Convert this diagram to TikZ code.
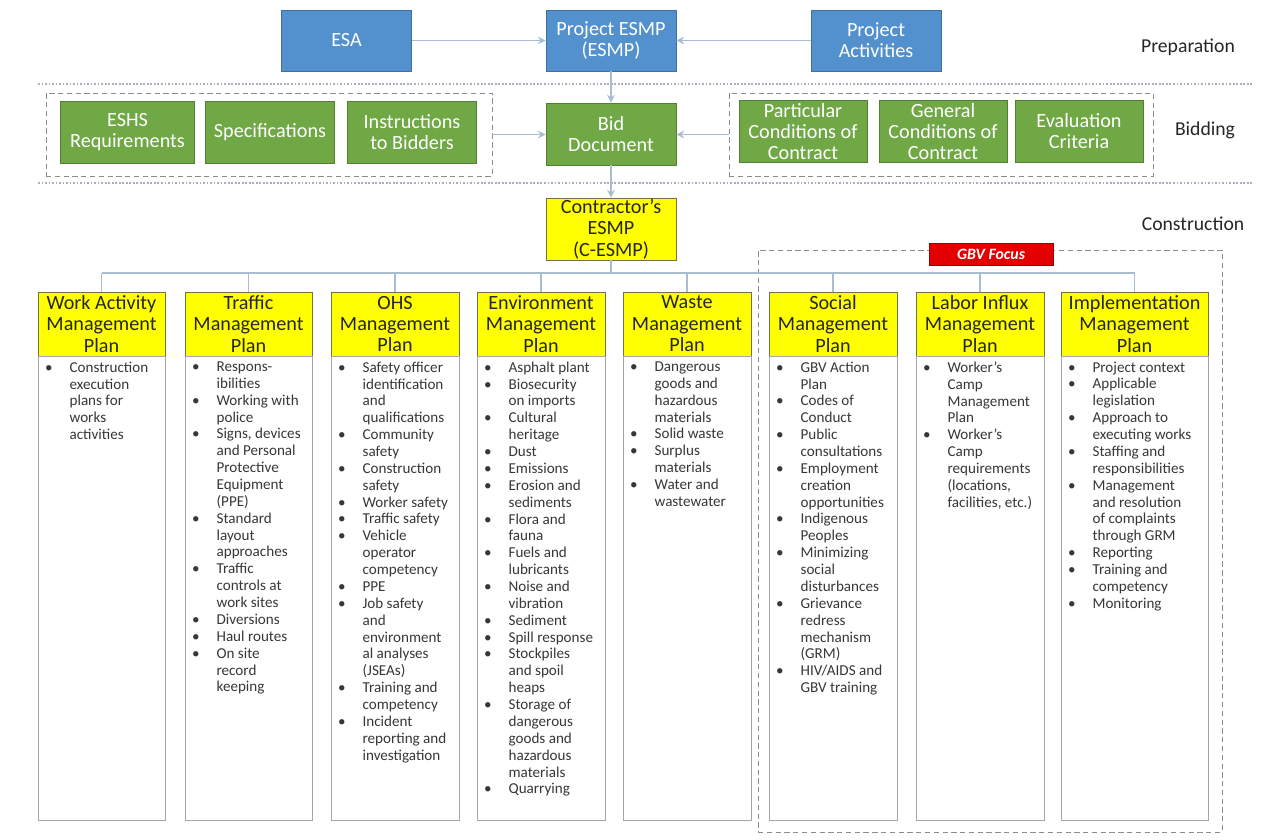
\documentclass[tikz,border=0pt]{standalone}
\usepackage{fontspec}
\setmainfont{Carlito}
\usetikzlibrary{positioning}

\definecolor{esblue}{RGB}{82,145,206}
\definecolor{esblueb}{RGB}{62,112,160}
\definecolor{esgreen}{RGB}{112,168,70}
\definecolor{esgreenb}{RGB}{84,126,52}
\definecolor{esyellow}{RGB}{255,255,0}
\definecolor{esyellowb}{RGB}{115,115,70}
\definecolor{esred}{RGB}{226,0,0}
\definecolor{conn}{RGB}{168,188,210}
\definecolor{sep}{RGB}{170,175,185}
\definecolor{txt}{RGB}{55,55,55}

\newcommand\bul{\makebox[14pt][l]{\textbullet}}
\newcommand\ind{\hspace*{14pt}}

\tikzset{
  bluebox/.style={draw=esblueb, fill=esblue, text=white, minimum width=2.6cm, minimum height=1.22cm,
    align=center, inner sep=0pt, font=\fontsize{11.5}{12}\selectfont},
  greenbox/.style={draw=esgreenb, fill=esgreen, text=white, minimum height=1.24cm,
    align=center, inner sep=0pt, font=\fontsize{11.5}{12}\selectfont},
  yellowbox/.style={draw=esyellowb, fill=esyellow, text=black!85, minimum height=1.28cm,
    align=center, inner sep=0pt, font=\fontsize{11.5}{12.2}\selectfont},
  bodybox/.style={draw=black!35, fill=white, minimum height=9.28cm, inner sep=0pt},
  bodytext/.style={anchor=north west, align=left, inner sep=0pt, text=txt,
    font=\fontsize{8.6}{9.6}\selectfont},
  link/.style={draw=conn, line width=1pt, ->, >=stealth},
  bus/.style={draw=conn, line width=1pt},
  group/.style={draw=black!45, densely dashed, inner sep=0pt},
  divider/.style={draw=sep, densely dotted, line width=1pt},
  phase/.style={font=\fontsize{11.2}{13}\selectfont, text=black!85},
}

\begin{document}
\begin{tikzpicture}[x=0.02cm, y=-0.02cm]
\useasboundingbox (0,0) rectangle (1271,839);

\node[bluebox] (esa) at (346.5,40.5) {ESA};
\node[bluebox] (pesmp) at (611,40.5) {Project ESMP\\(ESMP)};
\node[bluebox] (pact) at (876,40.5) {Project\\Activities};
\node[phase] (prep) at (1188,47) {Preparation};

\draw[divider] (38,84) -- (1253,84);
\draw[divider] (38,183) -- (1253,183);

\node[group, minimum width=8.92cm, minimum height=1.66cm] (lgrp) at (269,134.5) {};
\node[group, minimum width=8.48cm, minimum height=1.66cm] (rgrp) at (941,134.5) {};
\node[greenbox, minimum width=2.68cm] (eshs) at (127.5,132) {ESHS\\Requirements};
\node[greenbox, minimum width=2.58cm] (spec) at (270,132) {Specifications};
\node[greenbox, minimum width=2.58cm] (instr) at (412,132) {Instructions\\to Bidders};
\node[greenbox, minimum width=2.6cm] (bid) at (611,134) {Bid\\Document};
\node[greenbox, minimum width=2.56cm] (partc) at (803,131.5) {Particular\\Conditions of\\Contract};
\node[greenbox, minimum width=2.56cm] (genc) at (943,131.5) {General\\Conditions of\\Contract};
\node[greenbox, minimum width=2.56cm] (evalc) at (1079,131.5) {Evaluation\\Criteria};
\node[phase] (bidl) at (1205,130) {Bidding};

\draw[link] (esa) -- (pesmp);
\draw[link] (pact) -- (pesmp);
\draw[link] (pesmp) -- (bid);
\draw[link] (lgrp.east) -- (lgrp.east -| bid.west);
\draw[link] (rgrp.west) -- (rgrp.west -| bid.east);

\node[yellowbox, minimum width=2.6cm, minimum height=1.24cm] (cesmp) at (611,229) {Contractor's\\ESMP\\(C-ESMP)};
\draw[link] (bid) -- (cesmp);
\node[phase] (cons) at (1193,224) {Construction};

\node[group, minimum width=9.28cm, minimum height=11.64cm] (gbv) at (990,541) {};
\node[draw=red!60!black, fill=esred, text=white, minimum width=2.48cm, minimum height=0.44cm,
  inner sep=0pt, font=\fontsize{9}{10}\selectfont\bfseries\itshape] (gbvf) at (991,254) {GBV Focus};

\node[yellowbox, minimum width=2.54cm] (h1) at (101.5,324) {Work Activity\\Management\\Plan};
\node[yellowbox, minimum width=2.54cm] (h2) at (248.5,324) {Traffic\\Management\\Plan};
\node[yellowbox, minimum width=2.56cm] (h3) at (395,324) {OHS\\Management\\Plan};
\node[yellowbox, minimum width=2.56cm] (h4) at (541,324) {Environment\\Management\\Plan};
\node[yellowbox, minimum width=2.56cm] (h5) at (687,324) {Waste\\Management\\Plan};
\node[yellowbox, minimum width=2.56cm] (h6) at (833,324) {Social\\Management\\Plan};
\node[yellowbox, minimum width=2.56cm] (h7) at (980,324) {Labor Influx\\Management\\Plan};
\node[yellowbox, minimum width=2.94cm] (h8) at (1134.5,324) {Implementation\\Management\\Plan};

\coordinate (bus) at (0,273);
\draw[bus] (cesmp) -- (cesmp.south |- bus);
\draw[bus] (h1.north |- bus) -- (h8.north |- bus);
\foreach \i in {1,...,8}
  \draw[bus] (h\i.north |- bus) -- (h\i.north);

\node[bodybox, minimum width=2.54cm, below=0pt of h1] (b1) {};
\node[bodybox, minimum width=2.54cm, below=0pt of h2] (b2) {};
\node[bodybox, minimum width=2.56cm, below=0pt of h3] (b3) {};
\node[bodybox, minimum width=2.56cm, below=0pt of h4] (b4) {};
\node[bodybox, minimum width=2.56cm, below=0pt of h5] (b5) {};
\node[bodybox, minimum width=2.56cm, below=0pt of h6] (b6) {};
\node[bodybox, minimum width=2.56cm, below=0pt of h7] (b7) {};
\node[bodybox, minimum width=2.94cm, below=0pt of h8] (b8) {};

\node[bodytext] (t1) at ([xshift=0.14cm,yshift=-0.1cm]b1.north west)
  {\bul Construction\\\ind execution\\\ind plans for\\\ind works\\\ind activities};
\node[bodytext] (t2) at ([xshift=0.14cm,yshift=-0.1cm]b2.north west)
  {\bul Respons-\\\ind ibilities\\\bul Working with\\\ind police\\\bul Signs, devices\\\ind and Personal\\
   \ind Protective\\\ind Equipment\\\ind (PPE)\\\bul Standard\\\ind layout\\\ind approaches\\
   \bul Traffic\\\ind controls at\\\ind work sites\\\bul Diversions\\\bul Haul routes\\
   \bul On site\\\ind record\\\ind keeping};
\node[bodytext] (t3) at ([xshift=0.14cm,yshift=-0.1cm]b3.north west)
  {\bul Safety officer\\\ind identification\\\ind and\\\ind qualifications\\\bul Community\\\ind safety\\
   \bul Construction\\\ind safety\\\bul Worker safety\\\bul Traffic safety\\\bul Vehicle\\\ind operator\\
   \ind competency\\\bul PPE\\\bul Job safety\\\ind and\\\ind environment\\\ind al analyses\\\ind (JSEAs)\\
   \bul Training and\\\ind competency\\\bul Incident\\\ind reporting and\\\ind investigation};
\node[bodytext] (t4) at ([xshift=0.14cm,yshift=-0.1cm]b4.north west)
  {\bul Asphalt plant\\\bul Biosecurity\\\ind on imports\\\bul Cultural\\\ind heritage\\\bul Dust\\
   \bul Emissions\\\bul Erosion and\\\ind sediments\\\bul Flora and\\\ind fauna\\\bul Fuels and\\
   \ind lubricants\\\bul Noise and\\\ind vibration\\\bul Sediment\\\bul Spill response\\\bul Stockpiles\\
   \ind and spoil\\\ind heaps\\\bul Storage of\\\ind dangerous\\\ind goods and\\\ind hazardous\\
   \ind materials\\\bul Quarrying};
\node[bodytext] (t5) at ([xshift=0.14cm,yshift=-0.1cm]b5.north west)
  {\bul Dangerous\\\ind goods and\\\ind hazardous\\\ind materials\\\bul Solid waste\\\bul Surplus\\
   \ind materials\\\bul Water and\\\ind wastewater};
\node[bodytext] (t6) at ([xshift=0.14cm,yshift=-0.1cm]b6.north west)
  {\bul GBV Action\\\ind Plan\\\bul Codes of\\\ind Conduct\\\bul Public\\\ind consultations\\
   \bul Employment\\\ind creation\\\ind opportunities\\\bul Indigenous\\\ind Peoples\\\bul Minimizing\\
   \ind social\\\ind disturbances\\\bul Grievance\\\ind redress\\\ind mechanism\\\ind (GRM)\\
   \bul HIV/AIDS and\\\ind GBV training};
\node[bodytext] (t7) at ([xshift=0.14cm,yshift=-0.1cm]b7.north west)
  {\bul Worker's\\\ind Camp\\\ind Management\\\ind Plan\\\bul Worker's\\\ind Camp\\\ind requirements\\
   \ind (locations,\\\ind facilities, etc.)};
\node[bodytext] (t8) at ([xshift=0.14cm,yshift=-0.1cm]b8.north west)
  {\bul Project context\\\bul Applicable\\\ind legislation\\\bul Approach to\\\ind executing works\\
   \bul Staffing and\\\ind responsibilities\\\bul Management\\\ind and resolution\\\ind of complaints\\
   \ind through GRM\\\bul Reporting\\\bul Training and\\\ind competency\\\bul Monitoring};
\end{tikzpicture}
\end{document}
